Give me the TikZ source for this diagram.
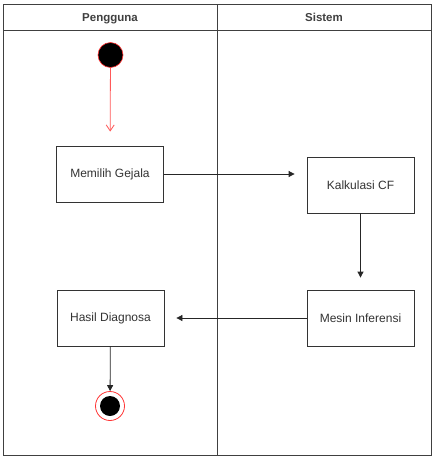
\documentclass[tikz,border=0pt]{standalone}
\usepackage{fontspec}
\setmainfont{Liberation Sans}
\usetikzlibrary{arrows.meta}
\begin{document}
\begin{tikzpicture}[x=1pt,y=-1pt,
  frame/.style={draw=black!75,line width=1pt},
  act/.style={draw=black!80,line width=0.8pt,minimum width=107pt,minimum height=56pt,inner sep=0pt,font=\fontsize{12}{14}\selectfont,text=black!80},
  flow/.style={draw=black!85,line width=0.8pt,-{Triangle[length=6pt,width=6pt]}},
  head/.style={font=\fontsize{11.5}{14}\selectfont\bfseries,text=black!75,anchor=base,inner sep=0pt}]
\useasboundingbox (0,0) rectangle (437,461);
\fill[white] (0,0) rectangle (437,461);
% swimlanes
\draw[frame] (3,4) rectangle (431,455);
\draw[frame] (3,30) -- (431,30);
\draw[frame] (217,4) -- (217,455);
\node[head] (h1) at (110,21) {Pengguna};
\node[head] (h2) at (324,21) {Sistem};
% nodes
\node[circle,fill=black,draw=red!80,line width=0.6pt,minimum size=25pt,inner sep=0pt] (start) at (110.5,55) {};
\node[act] (a1) at (110,174) {Memilih Gejala};
\node[act] (a2) at (360.5,185) {Kalkulasi CF};
\node[act] (a3) at (360.5,318) {Mesin Inferensi};
\node[act] (a4) at (110.5,318) {Hasil Diagnosa};
\node[circle,draw=red!80,line width=0.8pt,minimum size=29pt,inner sep=0pt] (end) at (110,406) {};
\node[circle,fill=black,minimum size=20pt,inner sep=0pt] (endin) at (110,406) {};
% connectors
\draw[draw=red!65,line width=0.8pt,-{Straight Barb[length=6pt,width=8pt]},shorten >=14pt] (start) -- (a1);
\draw[flow,shorten >=12pt] (a1.east) -- (a2.west |- a1.east);
\draw[flow,shorten >=12pt] (a2) -- (a3);
\draw[flow,shorten >=12pt] (a3.west) -- (a4.east);
\draw[flow] (a4) -- (end);
\end{tikzpicture}
\end{document}
